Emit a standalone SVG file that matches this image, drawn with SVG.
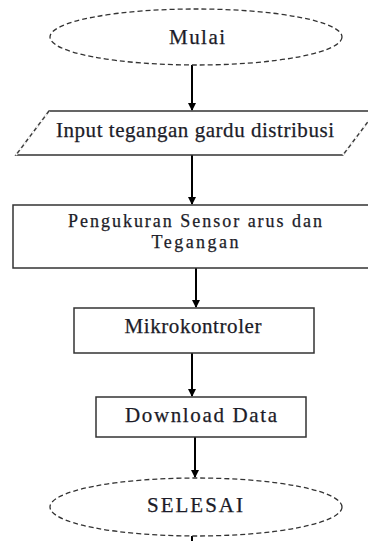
<svg xmlns="http://www.w3.org/2000/svg" width="368" height="541" viewBox="0 0 368 541">
<style>
.t{font-family:"Liberation Serif","Times New Roman",serif;font-size:21px;fill:#1c1c28;stroke:#1c1c28;stroke-width:0.25;text-anchor:middle}
.s{font-size:18px}
.box{fill:#fff;stroke:#333;stroke-width:1.5}
.dash{fill:#fff;stroke:#333;stroke-width:1.3;stroke-dasharray:5 3}
.c{stroke:#000;stroke-width:2;fill:none}
</style>
<defs>
<marker id="ah" markerWidth="8" markerHeight="8" refX="7" refY="4" orient="auto" markerUnits="userSpaceOnUse">
<path d="M0,0 L8,4 L0,8 Z" fill="#000"/>
</marker>
</defs>
<rect width="368" height="541" fill="#fff"/>
<g id="connectors">
<line class="c" x1="192" y1="65" x2="192" y2="110" marker-end="url(#ah)"/>
<line class="c" x1="192" y1="155" x2="192" y2="204" marker-end="url(#ah)"/>
<line class="c" x1="196" y1="268" x2="196" y2="307" marker-end="url(#ah)"/>
<line class="c" x1="192" y1="353" x2="192" y2="396" marker-end="url(#ah)"/>
<line class="c" x1="195" y1="437" x2="195" y2="477" marker-end="url(#ah)"/>
<line class="c" x1="192" y1="536" x2="192" y2="541"/>
</g>
<g id="mulai">
<ellipse class="dash" cx="196" cy="37" rx="146" ry="28"/>
<text class="t" x="197" y="44" textLength="56">Mulai</text>
</g>
<g id="input">
<path class="box" d="M49,111 L376,111 L343,155 L16,155 Z"/>
<path d="M49,111 L16,155 M376,111 L343,155" stroke="#fff" stroke-width="2"/>
<path d="M49,111 L16,155 M376,111 L343,155" stroke="#333" stroke-width="1.3" stroke-dasharray="4 3" fill="none"/>
<text class="t" x="195" y="137" textLength="278">Input tegangan gardu distribusi</text>
</g>
<g id="pengukuran">
<rect class="box" x="13" y="205" width="360" height="63"/>
<text class="t s" x="195" y="227" textLength="254">Pengukuran Sensor arus dan</text>
<text class="t s" x="195" y="248" textLength="87">Tegangan</text>
</g>
<g id="mikrokontroler">
<rect class="box" x="74" y="308" width="240" height="45"/>
<text class="t" x="193" y="333" textLength="137">Mikrokontroler</text>
</g>
<g id="download">
<rect class="box" x="96" y="397" width="210" height="40"/>
<text class="t" x="201" y="422" textLength="152">Download Data</text>
</g>
<g id="selesai">
<ellipse class="dash" cx="196" cy="507" rx="146" ry="29"/>
<text class="t" x="195" y="512" textLength="96">SELESAI</text>
</g>
</svg>
